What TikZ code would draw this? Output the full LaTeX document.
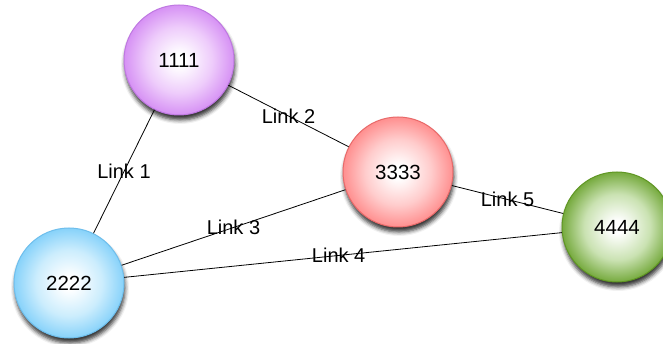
\documentclass[tikz,border=0pt]{standalone}
\usepackage{fontspec}
\setmainfont{Liberation Sans}
\usetikzlibrary{shadows.blur}
\definecolor{pOut}{RGB}{214,145,244}
\definecolor{pIn}{RGB}{238,204,251}
\definecolor{pLine}{RGB}{190,120,225}
\definecolor{bOut}{RGB}{135,210,250}
\definecolor{bIn}{RGB}{204,237,253}
\definecolor{bLine}{RGB}{110,190,236}
\definecolor{rOut}{RGB}{255,143,143}
\definecolor{rIn}{RGB}{255,204,204}
\definecolor{rLine}{RGB}{232,105,105}
\definecolor{gOut}{RGB}{118,170,62}
\definecolor{gIn}{RGB}{202,226,178}
\definecolor{gLine}{RGB}{95,150,35}
\pgfdeclareradialshading{purpleball}{\pgfpoint{0bp}{0bp}}{color(0bp)=(white); color(3bp)=(white); color(15bp)=(pIn); color(25bp)=(pOut); color(50bp)=(pOut)}
\pgfdeclareradialshading{blueball}{\pgfpoint{0bp}{0bp}}{color(0bp)=(white); color(3bp)=(white); color(15bp)=(bIn); color(25bp)=(bOut); color(50bp)=(bOut)}
\pgfdeclareradialshading{redball}{\pgfpoint{0bp}{0bp}}{color(0bp)=(white); color(3bp)=(white); color(15bp)=(rIn); color(25bp)=(rOut); color(50bp)=(rOut)}
\pgfdeclareradialshading{greenball}{\pgfpoint{0bp}{0bp}}{color(0bp)=(white); color(3bp)=(white); color(15bp)=(gIn); color(25bp)=(gOut); color(50bp)=(gOut)}
\tikzset{
  ball/.style={circle, minimum size=110pt, inner sep=0pt, line width=1pt,
    font=\fontsize{20.5}{24}\selectfont,
    blur shadow={shadow xshift=1pt, shadow yshift=-5pt, shadow blur radius=4pt, shadow opacity=80}},
  link/.style={draw=black, line width=0.8pt},
  lbl/.style={font=\fontsize{20}{24}\selectfont, inner sep=0pt}
}
\begin{document}
\begin{tikzpicture}[x=1pt,y=-1pt]
\useasboundingbox (0,0) rectangle (663,344);
\begin{scope}
\clip (0,0) rectangle (663,344);
\node[ball, draw=pLine, shading=purpleball] (a) at (179,60) {1111};
\node[ball, draw=bLine, shading=blueball] (b) at (69,283) {2222};
\node[ball, draw=rLine, shading=redball] (c) at (398,172) {3333};
\node[ball, draw=gLine, shading=greenball] (d) at (617,227) {4444};
\draw[link] (a) -- node[lbl] {Link 1} (b);
\draw[link] (a) -- node[lbl] {Link 2} (c);
\draw[link] (b) -- node[lbl] {Link 3} (c);
\draw[link] (b) -- node[lbl, pos=0.49] {Link 4} (d);
\draw[link] (c) -- node[lbl] {Link 5} (d);
\end{scope}
\end{tikzpicture}
\end{document}
